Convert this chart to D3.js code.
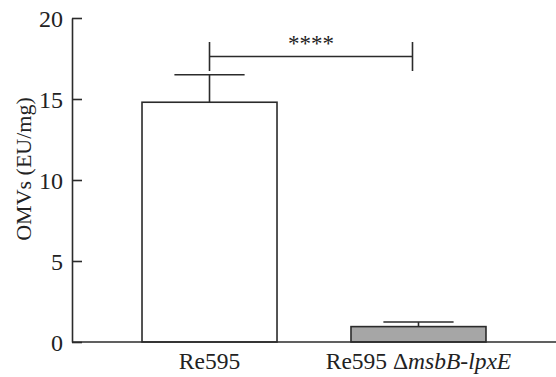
<!DOCTYPE html>
<html><head><meta charset="utf-8">
<script src="https://cdn.jsdelivr.net/npm/d3@7"></script>
<style>body{margin:0;background:#fff}svg{display:block}text{font-family:"Liberation Serif","Times New Roman",serif;fill:#222}</style>
</head><body>
<script>
const categories = ["Re595", "Re595 ΔmsbB-lpxE"];
const values = [14.8, 0.95];
const errors = [1.7, 0.28];
const yTicks = [0, 5, 10, 15, 20];
const sigLabel = "****";

const W = 556, H = 377;
const svg = d3.select("body").append("svg").attr("width", W).attr("height", H);
const y = d3.scaleLinear().domain([0, 20]).range([342, 18]);
const x = d3.scaleBand().domain(categories).range([72, 556]).paddingInner(0.354).paddingOuter(0.335);
const fills = ["#ffffff", "#a6a6a6"];
const stroke = "#2b2b2b";

// bars
svg.selectAll("rect.bar").data(categories).join("rect")
  .attr("x", d => x(d)).attr("width", x.bandwidth())
  .attr("y", (d,i) => y(values[i])).attr("height", (d,i) => y(0) - y(values[i]))
  .attr("fill", (d,i) => fills[i]).attr("stroke", stroke).attr("stroke-width", 1.6);

// error bars
categories.forEach((c,i) => {
  const cx = x(c) + x.bandwidth()/2;
  const capW = x.bandwidth()*0.52;
  svg.append("line").attr("x1", cx).attr("x2", cx).attr("y1", y(values[i])).attr("y2", y(values[i]+errors[i])).attr("stroke", stroke).attr("stroke-width", 1.6);
  svg.append("line").attr("x1", cx-capW/2).attr("x2", cx+capW/2).attr("y1", y(values[i]+errors[i])).attr("y2", y(values[i]+errors[i])).attr("stroke", stroke).attr("stroke-width", 1.6);
});

// axes
const yAxis = d3.axisLeft(y).tickValues(yTicks).tickSizeInner(-10).tickSizeOuter(0).tickPadding(9);
const gy = svg.append("g").attr("transform", "translate(72,0)").call(yAxis);
gy.select(".domain").attr("stroke", stroke).attr("stroke-width", 1.6);
gy.selectAll(".tick line").attr("stroke", stroke).attr("stroke-width", 1.6);
gy.selectAll(".tick text").attr("font-size", 24).attr("font-family", "Liberation Serif").attr("fill", "#222").attr("dy", "0.34em");

svg.append("line").attr("x1", 72).attr("x2", 556).attr("y1", y(0)).attr("y2", y(0)).attr("stroke", stroke).attr("stroke-width", 1.6);

// x labels
const xl = svg.append("g");
categories.forEach((c,i) => {
  const t = xl.append("text").attr("x", x(c) + x.bandwidth()/2).attr("y", 369).attr("text-anchor", "middle").attr("font-size", 23.5);
  if (i === 0) t.text(c);
  else {
    t.append("tspan").text("Re595 Δ");
    t.append("tspan").attr("font-style", "italic").text("msbB-lpxE");
  }
});

// y title
svg.append("text").attr("transform", "translate(31,169) rotate(-90)").attr("text-anchor", "middle").attr("font-size", 22).text("OMVs (EU/mg)");

// significance bracket
const x1 = x(categories[0]) + x.bandwidth()/2, x2 = x(categories[1]) + x.bandwidth()/2 - 6;
const by = 56.5;
svg.append("line").attr("x1", x1).attr("x2", x2).attr("y1", by).attr("y2", by).attr("stroke", stroke).attr("stroke-width", 1.6);
[x1, x2].forEach(xx => svg.append("line").attr("x1", xx).attr("x2", xx).attr("y1", 42).attr("y2", 71).attr("stroke", stroke).attr("stroke-width", 1.6));
svg.append("text").attr("x", (x1+x2)/2).attr("y", 51).attr("text-anchor", "middle").attr("font-size", 23).text(sigLabel);
</script>
</body></html>
